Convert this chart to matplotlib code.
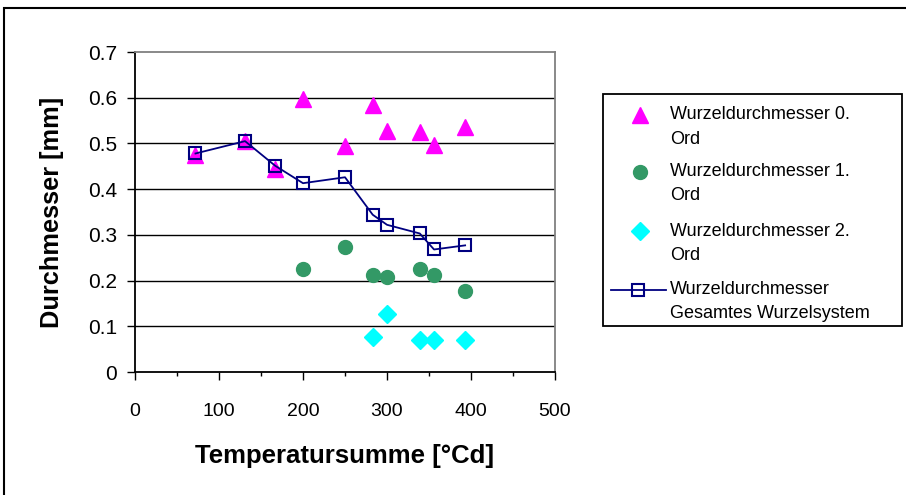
import matplotlib.pyplot as plt
from matplotlib.patches import Rectangle
from matplotlib.lines import Line2D
from matplotlib.ticker import MultipleLocator

plt.rcParams['font.family'] = ['Liberation Sans', 'DejaVu Sans']

# Temperatursumme [°Cd] for each sampling date
temp_sum = [72, 131, 167, 200, 250, 283, 300, 339, 356, 393]

# root diameters [mm]
ord0 = [0.475, 0.505, 0.445, 0.597, 0.494, 0.584, 0.528, 0.524, 0.497, 0.537]
ord1_x = [200, 250, 283, 300, 339, 356, 393]
ord1 = [0.225, 0.273, 0.212, 0.207, 0.225, 0.212, 0.177]
ord2_x = [283, 300, 339, 356, 393]
ord2 = [0.077, 0.126, 0.071, 0.070, 0.070]
gesamt = [0.478, 0.505, 0.451, 0.413, 0.426, 0.344, 0.322, 0.303, 0.268, 0.277]

yticks = [0, 0.1, 0.2, 0.3, 0.4, 0.5, 0.6, 0.7]
ytick_labels = ['0', '0.1', '0.2', '0.3', '0.4', '0.5', '0.6', '0.7']
labels = [('Wurzeldurchmesser 0.', 'Ord'), ('Wurzeldurchmesser 1.', 'Ord'),
          ('Wurzeldurchmesser 2.', 'Ord'), ('Wurzeldurchmesser', 'Gesamtes Wurzelsystem')]

W, H = 906, 495
def fx(px):            # pixel -> figure fraction
    return px / W
def fy(py):
    return 1 - py / H

fig = plt.figure(figsize=(9.06, 4.95), dpi=100)
ax = fig.add_axes([fx(135), fy(372), 420 / W, 320 / H])

# outer chart frame
fig.patches.append(Rectangle((fx(4), -0.1), 1.1, fy(8) + 0.1, transform=fig.transFigure,
                             fill=False, edgecolor='black', linewidth=1.5))

styles = [
    dict(linestyle='none', marker='^', markersize=11, color='#FF00FF'),
    dict(linestyle='none', marker='o', markersize=10, color='#339966'),
    dict(linestyle='none', marker='D', markersize=9, color='#00FFFF'),
    dict(color='#000080', linewidth=1.3, marker='s', markersize=9, markerfacecolor='none',
         markeredgecolor='#000080', markeredgewidth=1.5),
]

ax.plot(temp_sum, ord0, **styles[0])
ax.plot(ord1_x, ord1, **styles[1])
ax.plot(ord2_x, ord2, **styles[2])
ax.plot(temp_sum, gesamt, **styles[3])

ax.set_xlim(0, 500)
ax.set_ylim(0, 0.7)
ax.xaxis.set_major_locator(MultipleLocator(100))
ax.xaxis.set_minor_locator(MultipleLocator(50))
ax.set_yticks(yticks, ytick_labels)
ax.tick_params(axis='both', which='major', labelsize=14, length=6, width=1, color='black')
ax.tick_params(axis='y', labelsize=15, pad=7)
ax.tick_params(axis='x', which='minor', length=3, width=1)
ax.tick_params(axis='x', pad=16)

for y in yticks[1:-1]:
    ax.axhline(y, color='black', linewidth=1, zorder=0)

ax.spines['left'].set_color('black')
ax.spines['bottom'].set_color('black')
ax.spines['top'].set_color('#808080')
ax.spines['right'].set_color('#808080')
for s in ax.spines.values():
    s.set_linewidth(1.3)

ax.set_xlabel('Temperatursumme [°Cd]', fontsize=18.5, fontweight='bold')
ax.set_ylabel('Durchmesser [mm]', fontsize=18.3, fontweight='bold')
ax.xaxis.set_label_coords(0.5, -(444 - 372) / 320)
ax.yaxis.set_label_coords((64 - 135) / 420, 0.5)

# legend box drawn by hand so the symbol sits on the first text line
fig.patches.append(Rectangle((fx(603), fy(326)), (902 - 603) / W, (326 - 94) / H,
                             transform=fig.transFigure, fill=False, edgecolor='black', linewidth=1.3))
entry_y = [115, 172, 231, 290]
for (line1, line2), st, ey in zip(labels, styles, entry_y):
    if st.get('linestyle') == 'none':
        fig.add_artist(Line2D([fx(640)], [fy(ey)], transform=fig.transFigure, **st))
    else:
        line_st = dict(st, marker='none')
        fig.add_artist(Line2D([fx(611), fx(666)], [fy(ey), fy(ey)], transform=fig.transFigure, **line_st))
        fig.add_artist(Line2D([fx(638)], [fy(ey)], transform=fig.transFigure, **st))
    fig.text(fx(670), fy(ey), line1, fontsize=13, va='center', ha='left')
    fig.text(fx(670), fy(ey + 24), line2, fontsize=13, va='center', ha='left')

fig.savefig('out.png', dpi=100)
